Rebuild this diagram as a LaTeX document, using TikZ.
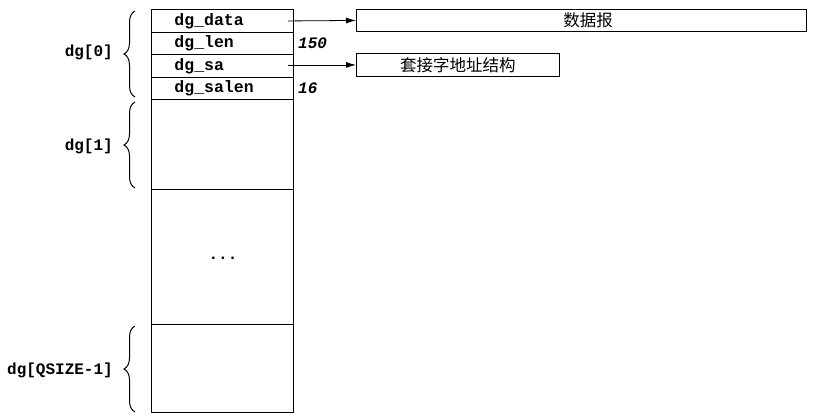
\documentclass[tikz,border=0pt]{standalone}
\usepackage{fontspec}
\setmonofont{Liberation Mono}
\newfontfamily\cjk{Noto Sans CJK SC}
\usetikzlibrary{arrows.meta,decorations.pathreplacing}
\begin{document}
\begin{tikzpicture}[x=1pt,y=-1pt,
  cell/.style={draw,line width=0.9pt,anchor=north west,minimum width=142pt,inner xsep=0pt,inner ysep=0pt,
     font=\fontsize{16.5}{16.5}\selectfont\ttfamily\bfseries},
  fld/.style={cell,text width=96pt,align=left},
  tbox/.style={draw,line width=0.9pt,anchor=north west,inner sep=0pt,font=\fontsize{16.5}{16.5}\selectfont\cjk},
  lab/.style={anchor=east,font=\fontsize{16}{16}\selectfont\ttfamily\bfseries,inner sep=0pt},
  num/.style={anchor=west,font=\fontsize{16}{16}\selectfont\ttfamily\bfseries\itshape,inner sep=0pt},
  arr/.style={line width=0.8pt,-{Latex[length=10pt,width=6pt]}},
  brc/.style={decorate,decoration={brace,amplitude=11pt},line width=1pt}]
\useasboundingbox (0,0) rectangle (828,418);
% fields of dg[0]
\node[fld,minimum height=23pt] (data) at (151,9) {dg\_data};
\node[fld,minimum height=22pt] (len) at (151,32) {dg\_len};
\node[fld,minimum height=23pt] (sa) at (151,54) {dg\_sa};
\node[fld,minimum height=22pt] (salen) at (151,77) {dg\_salen};
% other elements
\node[cell,minimum height=90pt] (one) at (151,99) {};
\node[cell,minimum height=135pt] (dots) at (151,189) {};
\node[font=\fontsize{16}{16}\selectfont\ttfamily\bfseries,inner sep=0pt] (ell) at (223,258) {...};
\node[cell,minimum height=88pt] (last) at (151,324) {};
% values
\node[num] (v150) at (298,43) {150};
\node[num] (v16) at (298,88) {16};
% target boxes
\node[tbox,minimum width=450pt,minimum height=22pt] (dgram) at (356,9) {};
\node[font=\fontsize{16.5}{16.5}\selectfont\cjk,inner sep=0pt] (dgramt) at (588,20) {数据报};
\node[tbox,minimum width=203pt,minimum height=23pt] (addr) at (356,53) {套接字地址结构};
\draw[arr] ([xshift=-6pt]data.east) -- (dgram.west);
\draw[arr] ([xshift=-6pt]sa.east|-addr.west) -- (addr.west);
% braces
\draw[brc] (135,97) -- (135,11) coordinate[midway] (b0);
\draw[brc] (135,188) -- (135,102) coordinate[midway] (b1);
\draw[brc] (135,412) -- (135,326) coordinate[midway] (b2);
\node[lab] (l0) at (113,52) {dg[0]};
\node[lab] (l1) at (113,146) {dg[1]};
\node[lab] (l2) at (113,370) {dg[QSIZE-1]};
\end{tikzpicture}
\end{document}
